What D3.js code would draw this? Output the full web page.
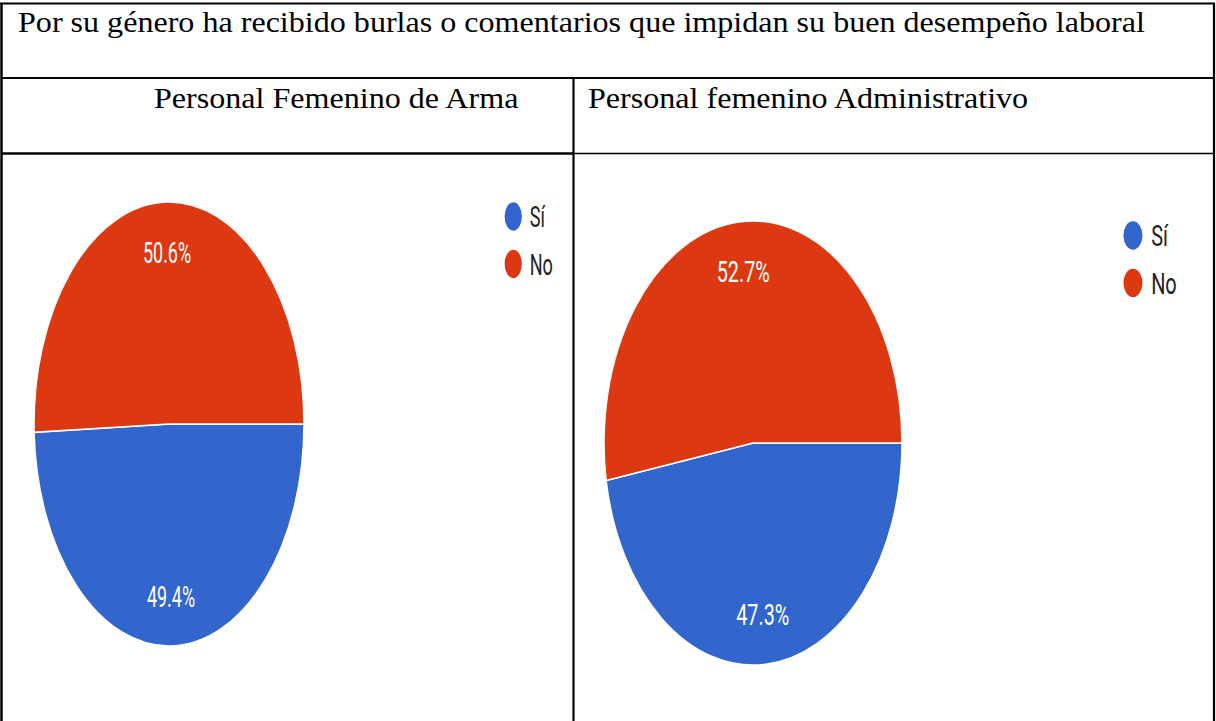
<!DOCTYPE html>
<html>
<head>
<meta charset="utf-8">
<script src="https://cdn.jsdelivr.net/npm/d3@7"></script>
<style>
  html, body { margin: 0; padding: 0; background: #fff; }
  svg { display: block; }
  .cell-text { font-family: "Liberation Serif", "Times New Roman", serif; fill: #000; }
  .pie-label { font-family: Roboto, "Liberation Sans", Arial, sans-serif; fill: #fff; }
  .legend-text { font-family: Roboto, "Liberation Sans", Arial, sans-serif; fill: #222; }
</style>
</head>
<body>
<svg id="chart"></svg>
<script>
'use strict'

// data
const title = "Por su género ha recibido burlas o comentarios que impidan su buen desempeño laboral"
const groupNames = ["Personal Femenino de Arma", "Personal femenino Administrativo"]
const answers = ["Sí", "No"]
const armaValues = [49.4, 50.6]
const adminValues = [47.3, 52.7]
const sliceColors = ["#3366cc", "#dc3912"]

const width = 1216,
      height = 721

const svg = d3.select("#chart")
  .attr("width", width)
  .attr("height", height)

// table frame
const gridLeft = 1.5, gridRight = 1214, gridTop = 3.5, row1 = 78, row2 = 153.5, divider = 573.5

const grid = svg.append("g").attr("stroke", "#000").attr("fill", "none")
grid.append("line").attr("x1", gridLeft - 1.5).attr("x2", gridRight + 1).attr("y1", gridTop).attr("y2", gridTop).attr("stroke-width", 2.2)
grid.append("line").attr("x1", gridLeft).attr("x2", gridRight).attr("y1", row1).attr("y2", row1).attr("stroke-width", 2.2)
grid.append("line").attr("x1", gridLeft).attr("x2", divider).attr("y1", row2).attr("y2", row2).attr("stroke-width", 2.5)
grid.append("line").attr("x1", divider).attr("x2", gridRight).attr("y1", row2).attr("y2", row2).attr("stroke-width", 1.5)
grid.append("line").attr("x1", gridLeft).attr("x2", gridLeft).attr("y1", gridTop).attr("y2", height).attr("stroke-width", 2.5)
grid.append("line").attr("x1", gridRight).attr("x2", gridRight).attr("y1", gridTop).attr("y2", height).attr("stroke-width", 2.2)
grid.append("line").attr("x1", divider).attr("x2", divider).attr("y1", row1).attr("y2", height).attr("stroke-width", 2.2)

// cell texts (the document page is a bit stretched sideways)
const stretchX = 1.07
const cellTexts = [
  { text: title, x: 18, y: 32 },
  { text: groupNames[0], x: 154, y: 108 },
  { text: groupNames[1], x: 588, y: 108 }
]
svg.append("g").selectAll("text")
  .data(cellTexts)
  .enter().append("text")
    .attr("class", "cell-text")
    .attr("transform", d => "translate(" + d.x + "," + d.y + ") scale(" + stretchX + ",1)")
    .style("font-size", "30px")
    .text(d => d.text)

// the two pies, drawn as circles and then squeezed into ellipses like the screenshot
const pies = [
  { values: armaValues, cx: 169, cy: 424, rx: 135, ry: 222 },
  { values: adminValues, cx: 753, cy: 443, rx: 149, ry: 222 }
]

const pie = d3.pie()
  .sort(null)
  .startAngle(Math.PI / 2)
  .endAngle(Math.PI / 2 + 2 * Math.PI)

const color = d3.scaleOrdinal().domain(answers).range(sliceColors)

pies.forEach(p => {
  const r = p.rx
  const g = svg.append("g")
    .attr("transform", "translate(" + p.cx + "," + p.cy + ") scale(1," + (p.ry / p.rx) + ")")

  const arcs = pie(p.values)
  const arc = d3.arc().innerRadius(0).outerRadius(r)
  const labelArc = d3.arc().innerRadius(r * 0.775).outerRadius(r * 0.775)

  g.selectAll("path")
    .data(arcs)
    .enter().append("path")
      .attr("d", arc)
      .attr("fill", (d, i) => color(answers[i]))
      .attr("stroke", "#fff")
      .attr("stroke-width", 1.5)
      .attr("vector-effect", "non-scaling-stroke")

  g.selectAll("text.pie-label")
    .data(arcs)
    .enter().append("text")
      .attr("class", "pie-label")
      .attr("transform", d => "translate(" + labelArc.centroid(d) + ")")
      .attr("text-anchor", "middle")
      .attr("dy", "0.36em")
      .style("font-size", (r * 0.133) + "px")
      .text(d => d3.format(".1f")(d.value) + "%")

  // legend
  const legend = g.append("g")
    .attr("transform", "translate(" + (r * 2.55) + "," + (-r * 0.935) + ")")
  const item = legend.selectAll("g")
    .data(answers)
    .enter().append("g")
      .attr("transform", (d, i) => "translate(0," + (i * r * 0.214) + ")")
  item.append("circle")
    .attr("r", r * 0.064)
    .attr("fill", d => color(d))
  item.append("text")
    .attr("class", "legend-text")
    .attr("x", r * 0.122)
    .attr("dy", "0.36em")
    .style("font-size", (r * 0.134) + "px")
    .text(d => d)
})
</script>
</body>
</html>
